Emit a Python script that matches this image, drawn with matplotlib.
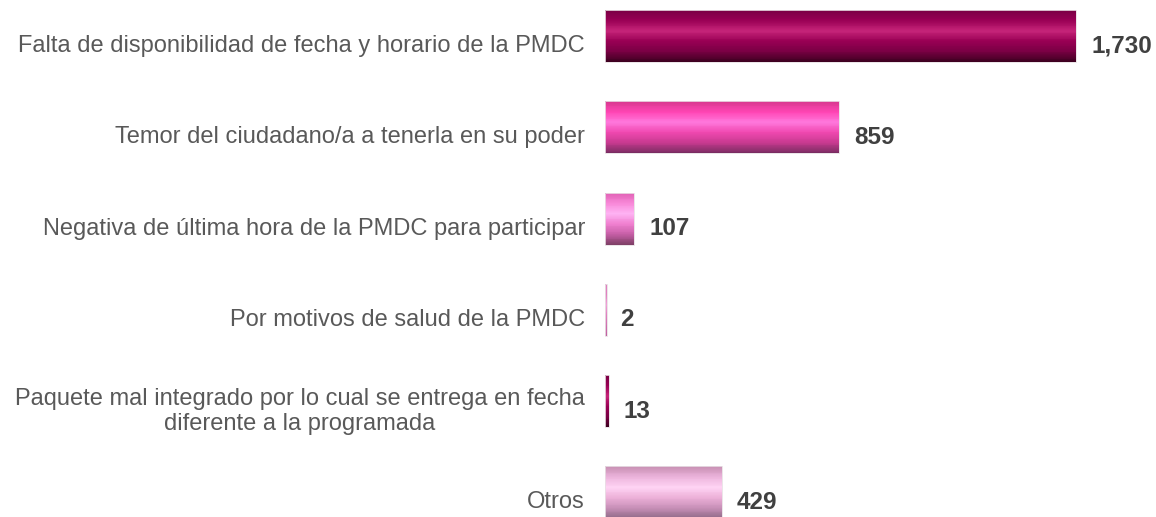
import numpy as np
import matplotlib.pyplot as plt
from matplotlib.colors import LinearSegmentedColormap

plt.rcParams['font.family'] = ['Liberation Sans', 'DejaVu Sans']

# causas y valores
categorias = ["Falta de disponibilidad de fecha y horario de la PMDC",
              "Temor del ciudadano/a a tenerla en su poder",
              "Negativa de última hora de la PMDC para participar",
              "Por motivos de salud de la PMDC",
              "Paquete mal integrado por lo cual se entrega en fecha\ndiferente a la programada",
              "Otros"]
valores = [1730, 859, 107, 2, 13, 429]
etiquetas = ["1,730", "859", "107", "2", "13", "429"]

# gradientes verticales (arriba -> abajo)
dark = ["#7a0045", "#9a0055", "#c62479", "#990054", "#7a0044", "#3e0020"]
hot = ["#d8388f", "#ff45b4", "#ff78dc", "#f048b0", "#c83a90", "#7a2c62"]
light = ["#e060b4", "#f888d8", "#ffb4f4", "#f080d0", "#c860a8", "#804068"]
thin = ["#e080c0", "#e080c0", "#f0a0d8", "#e080c0", "#d070b0", "#c060a0"]
pale = ["#c890b4", "#ecb4dc", "#ffd4f4", "#ecb0d8", "#c890b8", "#906a88"]
estilos = [dark, hot, light, thin, dark, pale]

fig = plt.figure(figsize=(11.56, 5.17), dpi=100)
ax = fig.add_axes([605 / 1156, 0, 545 / 1156, 1])

alto = 0.57
n = 60
for i, (v, cols) in enumerate(zip(valores, estilos)):
    cmap = LinearSegmentedColormap.from_list("g%d" % i, cols)
    ancho = max(v, 6)
    # franjas horizontales para simular el degradado
    ys = i - alto / 2 + (np.arange(n) + 0.5) * alto / n
    ax.barh(ys, [ancho] * n, height=alto / n * 1.05,
            color=cmap(np.linspace(0, 1, n)), linewidth=0, zorder=2)
    ax.add_patch(plt.Rectangle((0, i - alto / 2), ancho, alto, fill=False,
                               edgecolor="#e8e0e4", linewidth=0.6, zorder=3))
    ax.text(v + 55, i + 0.11, etiquetas[i], ha="left", va="center",
            fontsize=17.5, fontweight="bold", color="#404040")
    fig.text(585 / 1156, 1 - (46 + 91.3 * i) / 517, categorias[i],
             ha="right", va="center", fontsize=17, color="#595959",
             multialignment="center", linespacing=1.2)

ax.set_xlim(0, 2000)
ax.set_ylim(517 / 91.3 - 36 / 91.3, -36 / 91.3)
ax.axis("off")

plt.savefig("out.png", dpi=100)
